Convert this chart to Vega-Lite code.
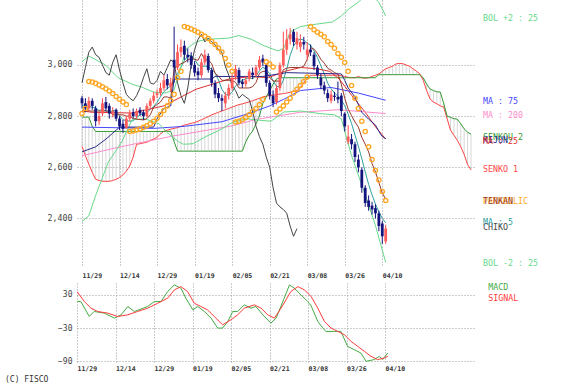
{
"$schema":"https://vega.github.io/schema/vega-lite/v6.json",
"background":"white",
"padding":{"left":5,"top":0,"right":0,"bottom":0},
"spacing":3,
"title":{"text":"(C) FISCO","orient":"bottom","anchor":"start","font":"DejaVu Sans Mono","fontSize":8,"fontWeight":"normal","color":"#333333","offset":4,"dx":-42},
"datasets":{
"ohlc":[
{"t":0,"o":2870,"h":2880,"l":2830,"c":2850},{"t":1,"o":2850,"h":2870,"l":2815,"c":2830},{"t":2,"o":2830,"h":2875,"l":2820,"c":2860},{"t":3,"o":2860,"h":2870,"l":2825,"c":2840},{"t":4,"o":2830,"h":2840,"l":2760,"c":2780},{"t":5,"o":2780,"h":2815,"l":2765,"c":2800},{"t":6,"o":2810,"h":2870,"l":2800,"c":2850},{"t":7,"o":2855,"h":2875,"l":2820,"c":2830},{"t":8,"o":2840,"h":2850,"l":2790,"c":2810},{"t":9,"o":2810,"h":2835,"l":2795,"c":2820},
{"t":10,"o":2825,"h":2830,"l":2780,"c":2790},{"t":11,"o":2790,"h":2800,"l":2745,"c":2760},{"t":12,"o":2770,"h":2785,"l":2735,"c":2750},{"t":13,"o":2755,"h":2800,"l":2750,"c":2790},{"t":14,"o":2790,"h":2825,"l":2780,"c":2810},{"t":15,"o":2815,"h":2830,"l":2790,"c":2800},{"t":16,"o":2800,"h":2830,"l":2790,"c":2820},{"t":17,"o":2825,"h":2835,"l":2800,"c":2810},{"t":18,"o":2815,"h":2825,"l":2785,"c":2800},{"t":19,"o":2800,"h":2850,"l":2795,"c":2840},
{"t":20,"o":2840,"h":2870,"l":2830,"c":2860},{"t":21,"o":2860,"h":2895,"l":2850,"c":2880},{"t":22,"o":2882,"h":2905,"l":2870,"c":2890},{"t":23,"o":2890,"h":2930,"l":2880,"c":2910},{"t":24,"o":2910,"h":2960,"l":2900,"c":2940},{"t":25,"o":2945,"h":2965,"l":2905,"c":2920},{"t":26,"o":2915,"h":2950,"l":2895,"c":2930},{"t":27,"o":3020,"h":3150,"l":2930,"c":2990},{"t":28,"o":2990,"h":3080,"l":2980,"c":3050},{"t":29,"o":3050,"h":3100,"l":3030,"c":3070},
{"t":30,"o":3075,"h":3095,"l":3020,"c":3040},{"t":31,"o":3040,"h":3065,"l":3010,"c":3030},{"t":32,"o":3035,"h":3050,"l":2985,"c":3000},{"t":33,"o":3000,"h":3015,"l":2955,"c":2970},{"t":34,"o":2975,"h":2990,"l":2940,"c":2960},{"t":35,"o":2960,"h":3025,"l":2950,"c":3010},{"t":36,"o":3010,"h":3060,"l":3000,"c":3040},{"t":37,"o":3035,"h":3045,"l":2970,"c":2980},{"t":38,"o":2980,"h":2990,"l":2915,"c":2930},{"t":39,"o":2930,"h":2940,"l":2870,"c":2885},
{"t":40,"o":2890,"h":2910,"l":2855,"c":2870},{"t":41,"o":2870,"h":2885,"l":2820,"c":2860},{"t":42,"o":2850,"h":2895,"l":2830,"c":2880},{"t":43,"o":2880,"h":2925,"l":2865,"c":2910},{"t":44,"o":2910,"h":2965,"l":2900,"c":2950},{"t":45,"o":2955,"h":3000,"l":2940,"c":2985},{"t":46,"o":2980,"h":2990,"l":2920,"c":2930},{"t":47,"o":2935,"h":2945,"l":2910,"c":2925},{"t":48,"o":2925,"h":2955,"l":2915,"c":2940},{"t":49,"o":2945,"h":2985,"l":2935,"c":2975},
{"t":50,"o":2970,"h":2990,"l":2945,"c":2960},{"t":51,"o":2960,"h":3000,"l":2950,"c":2990},{"t":52,"o":2990,"h":3035,"l":2980,"c":3020},{"t":53,"o":3025,"h":3040,"l":2995,"c":3010},{"t":54,"o":3000,"h":3005,"l":2915,"c":2930},{"t":55,"o":2930,"h":2940,"l":2865,"c":2880},{"t":56,"o":2880,"h":2900,"l":2835,"c":2850},{"t":57,"o":2855,"h":2920,"l":2845,"c":2910},{"t":58,"o":2910,"h":3010,"l":2900,"c":3000},{"t":59,"o":3000,"h":3130,"l":2990,"c":3060},
{"t":60,"o":3060,"h":3140,"l":3040,"c":3100},{"t":61,"o":3100,"h":3145,"l":3080,"c":3120},{"t":62,"o":3130,"h":3140,"l":3075,"c":3090},{"t":63,"o":3080,"h":3130,"l":3060,"c":3105},{"t":64,"o":3070,"h":3120,"l":3050,"c":3090},{"t":65,"o":3090,"h":3110,"l":3060,"c":3080},{"t":66,"o":3040,"h":3090,"l":3020,"c":3060},{"t":67,"o":3060,"h":3080,"l":3035,"c":3050},{"t":68,"o":3040,"h":3050,"l":2980,"c":2995},{"t":69,"o":2990,"h":3000,"l":2945,"c":2960},
{"t":70,"o":2950,"h":2965,"l":2905,"c":2920},{"t":71,"o":2920,"h":2935,"l":2885,"c":2900},{"t":72,"o":2890,"h":2905,"l":2855,"c":2870},{"t":73,"o":2860,"h":2900,"l":2850,"c":2885},{"t":74,"o":2880,"h":2895,"l":2860,"c":2875},{"t":75,"o":2875,"h":2935,"l":2850,"c":2865},{"t":76,"o":2880,"h":2890,"l":2800,"c":2820},{"t":77,"o":2810,"h":2815,"l":2740,"c":2760},{"t":78,"o":2700,"h":2765,"l":2690,"c":2720},{"t":79,"o":2710,"h":2730,"l":2670,"c":2690},
{"t":80,"o":2690,"h":2700,"l":2620,"c":2640},{"t":81,"o":2630,"h":2650,"l":2580,"c":2600},{"t":82,"o":2590,"h":2600,"l":2500,"c":2520},{"t":83,"o":2520,"h":2530,"l":2445,"c":2460},{"t":84,"o":2470,"h":2490,"l":2430,"c":2445},{"t":85,"o":2450,"h":2465,"l":2415,"c":2435},{"t":86,"o":2440,"h":2455,"l":2400,"c":2420},{"t":87,"o":2420,"h":2430,"l":2350,"c":2370},{"t":88,"o":2380,"h":2390,"l":2300,"c":2330},{"t":89,"o":2310,"h":2375,"l":2300,"c":2360}
],
"cloud":[
{"t":0,"a":2682,"b":2796},{"t":1,"a":2645,"b":2796},{"t":2,"a":2612,"b":2796},{"t":3,"a":2580,"b":2760},{"t":4,"a":2553,"b":2740},{"t":5,"a":2548,"b":2740},{"t":6,"a":2545,"b":2740},{"t":7,"a":2545,"b":2740},{"t":8,"a":2545,"b":2740},{"t":9,"a":2548,"b":2740},
{"t":10,"a":2553,"b":2740},{"t":11,"a":2560,"b":2740},{"t":12,"a":2570,"b":2740},{"t":13,"a":2585,"b":2740},{"t":14,"a":2605,"b":2740},{"t":15,"a":2640,"b":2740},{"t":16,"a":2690,"b":2740},{"t":17,"a":2692,"b":2740},{"t":18,"a":2695,"b":2740},{"t":19,"a":2698,"b":2740},
{"t":20,"a":2705,"b":2740},{"t":21,"a":2710,"b":2740},{"t":22,"a":2717,"b":2740},{"t":23,"a":2730,"b":2740},{"t":24,"a":2741,"b":2740},{"t":25,"a":2745,"b":2740},{"t":26,"a":2749,"b":2740},{"t":27,"a":2752,"b":2700},{"t":28,"a":2755,"b":2663},{"t":29,"a":2760,"b":2663},
{"t":30,"a":2765,"b":2663},{"t":31,"a":2768,"b":2663},{"t":32,"a":2772,"b":2663},{"t":33,"a":2775,"b":2663},{"t":34,"a":2780,"b":2663},{"t":35,"a":2786,"b":2663},{"t":36,"a":2792,"b":2663},{"t":37,"a":2798,"b":2663},{"t":38,"a":2805,"b":2663},{"t":39,"a":2810,"b":2663},
{"t":40,"a":2815,"b":2663},{"t":41,"a":2820,"b":2663},{"t":42,"a":2825,"b":2663},{"t":43,"a":2830,"b":2663},{"t":44,"a":2835,"b":2663},{"t":45,"a":2840,"b":2663},{"t":46,"a":2845,"b":2663},{"t":47,"a":2848,"b":2663},{"t":48,"a":2852,"b":2700},{"t":49,"a":2856,"b":2725},
{"t":50,"a":2860,"b":2741},{"t":51,"a":2865,"b":2770},{"t":52,"a":2870,"b":2800},{"t":53,"a":2875,"b":2850},{"t":54,"a":2878,"b":2875},{"t":55,"a":2880,"b":2900},{"t":56,"a":2882,"b":2925},{"t":57,"a":2884,"b":2945},{"t":58,"a":2886,"b":2950},{"t":59,"a":2888,"b":2950},
{"t":60,"a":2890,"b":2950},{"t":61,"a":2893,"b":2950},{"t":62,"a":2896,"b":2950},{"t":63,"a":2900,"b":2950},{"t":64,"a":2910,"b":2950},{"t":65,"a":2930,"b":2950},{"t":66,"a":2950,"b":2950},{"t":67,"a":2960,"b":2950},{"t":68,"a":2960,"b":2950},{"t":69,"a":2960,"b":2950},
{"t":70,"a":2960,"b":2950},{"t":71,"a":2960,"b":2950},{"t":72,"a":2960,"b":2950},{"t":73,"a":2960,"b":2950},{"t":74,"a":2960,"b":2950},{"t":75,"a":2960,"b":2950},{"t":76,"a":2958,"b":2950},{"t":77,"a":2955,"b":2950},{"t":78,"a":2952,"b":2950},{"t":79,"a":2950,"b":2950},
{"t":80,"a":2950,"b":2950},{"t":81,"a":2955,"b":2950},{"t":82,"a":2950,"b":2950},{"t":83,"a":2948,"b":2950},{"t":84,"a":2950,"b":2950},{"t":85,"a":2955,"b":2950},{"t":86,"a":2960,"b":2950},{"t":87,"a":2965,"b":2962},{"t":88,"a":2975,"b":2962},{"t":89,"a":2985,"b":2962},
{"t":90,"a":2990,"b":2962},{"t":91,"a":2995,"b":2962},{"t":92,"a":3004,"b":2962},{"t":93,"a":3006,"b":2962},{"t":94,"a":3005,"b":2962},{"t":95,"a":3000,"b":2962},{"t":96,"a":2995,"b":2962},{"t":97,"a":2985,"b":2962},{"t":98,"a":2976,"b":2962},{"t":99,"a":2965,"b":2962},
{"t":100,"a":2940,"b":2950},{"t":101,"a":2900,"b":2925},{"t":102,"a":2867,"b":2906},{"t":103,"a":2855,"b":2900},{"t":104,"a":2848,"b":2895},{"t":105,"a":2840,"b":2894},{"t":106,"a":2835,"b":2850},{"t":107,"a":2790,"b":2800},{"t":108,"a":2745,"b":2795},{"t":109,"a":2725,"b":2790},
{"t":110,"a":2705,"b":2788},{"t":111,"a":2680,"b":2770},{"t":112,"a":2650,"b":2750},{"t":113,"a":2610,"b":2737},{"t":114,"a":2590,"b":2729}
],
"sar":[
{"t":0,"v":2810},{"t":1,"v":2830},{"t":2,"v":2935},{"t":3,"v":2933},{"t":4,"v":2928},{"t":5,"v":2922},{"t":6,"v":2915},{"t":7,"v":2907},{"t":8,"v":2898},{"t":9,"v":2888},{"t":10,"v":2877},{"t":11,"v":2866},{"t":12,"v":2855},{"t":13,"v":2845},
{"t":14,"v":2740},{"t":15,"v":2742},{"t":16,"v":2746},{"t":17,"v":2750},{"t":18,"v":2756},{"t":19,"v":2762},{"t":20,"v":2770},{"t":21,"v":2780},{"t":22,"v":2792},{"t":23,"v":2806},{"t":24,"v":2822},{"t":25,"v":2840},{"t":26,"v":2860},{"t":27,"v":2885},{"t":28,"v":2950},{"t":29,"v":2975},
{"t":30,"v":3150},{"t":31,"v":3146},{"t":32,"v":3141},{"t":33,"v":3135},{"t":34,"v":3128},{"t":35,"v":3120},{"t":36,"v":3112},{"t":37,"v":3103},{"t":38,"v":3092},{"t":39,"v":3080},{"t":40,"v":3066},{"t":41,"v":3051},{"t":42,"v":3025},{"t":43,"v":3000},{"t":44,"v":2975},
{"t":45,"v":2777},{"t":46,"v":2780},{"t":47,"v":2786},{"t":48,"v":2795},{"t":49,"v":2805},{"t":50,"v":2818},{"t":51,"v":2830},{"t":52,"v":2845},{"t":53,"v":2865},
{"t":54,"v":3012},{"t":55,"v":3004},{"t":56,"v":2992},
{"t":57,"v":2816},{"t":58,"v":2828},{"t":59,"v":2840},{"t":60,"v":2855},{"t":61,"v":2870},{"t":62,"v":2890},{"t":63,"v":2905},{"t":64,"v":2920},{"t":65,"v":2935},{"t":66,"v":2953},
{"t":67,"v":3150},{"t":68,"v":3138},{"t":69,"v":3128},{"t":70,"v":3120},{"t":71,"v":3110},{"t":72,"v":3092},{"t":73,"v":3080},{"t":74,"v":3065},{"t":75,"v":3045},{"t":76,"v":3030},{"t":77,"v":3010},{"t":78,"v":2975},{"t":79,"v":2920},{"t":80,"v":2870},{"t":81,"v":2830},{"t":82,"v":2780},{"t":83,"v":2740},{"t":84,"v":2680},{"t":85,"v":2630},{"t":86,"v":2587},{"t":87,"v":2550},{"t":88,"v":2505},{"t":89,"v":2470}
],
"lines":[
{"s":"MA : 5","t":0,"v":2845},{"s":"MA : 5","t":1,"v":2840},{"s":"MA : 5","t":2,"v":2838},{"s":"MA : 5","t":3,"v":2835},{"s":"MA : 5","t":4,"v":2832},{"s":"MA : 5","t":5,"v":2822},{"s":"MA : 5","t":6,"v":2826},{"s":"MA : 5","t":7,"v":2820},{"s":"MA : 5","t":8,"v":2814},{"s":"MA : 5","t":9,"v":2822},
{"s":"MA : 5","t":10,"v":2820},{"s":"MA : 5","t":11,"v":2802},{"s":"MA : 5","t":12,"v":2786},{"s":"MA : 5","t":13,"v":2782},{"s":"MA : 5","t":14,"v":2780},{"s":"MA : 5","t":15,"v":2782},{"s":"MA : 5","t":16,"v":2794},{"s":"MA : 5","t":17,"v":2806},{"s":"MA : 5","t":18,"v":2808},{"s":"MA : 5","t":19,"v":2814},
{"s":"MA : 5","t":20,"v":2826},{"s":"MA : 5","t":21,"v":2838},{"s":"MA : 5","t":22,"v":2854},{"s":"MA : 5","t":23,"v":2876},{"s":"MA : 5","t":24,"v":2896},{"s":"MA : 5","t":25,"v":2908},{"s":"MA : 5","t":26,"v":2918},{"s":"MA : 5","t":27,"v":2938},{"s":"MA : 5","t":28,"v":2966},{"s":"MA : 5","t":29,"v":2992},
{"s":"MA : 5","t":30,"v":3016},{"s":"MA : 5","t":31,"v":3036},{"s":"MA : 5","t":32,"v":3038},{"s":"MA : 5","t":33,"v":3022},{"s":"MA : 5","t":34,"v":3000},{"s":"MA : 5","t":35,"v":2994},{"s":"MA : 5","t":36,"v":2996},{"s":"MA : 5","t":37,"v":2992},{"s":"MA : 5","t":38,"v":2984},{"s":"MA : 5","t":39,"v":2969},
{"s":"MA : 5","t":40,"v":2941},{"s":"MA : 5","t":41,"v":2905},{"s":"MA : 5","t":42,"v":2885},{"s":"MA : 5","t":43,"v":2881},{"s":"MA : 5","t":44,"v":2894},{"s":"MA : 5","t":45,"v":2917},{"s":"MA : 5","t":46,"v":2931},{"s":"MA : 5","t":47,"v":2940},{"s":"MA : 5","t":48,"v":2946},{"s":"MA : 5","t":49,"v":2951},
{"s":"MA : 5","t":50,"v":2946},{"s":"MA : 5","t":51,"v":2958},{"s":"MA : 5","t":52,"v":2977},{"s":"MA : 5","t":53,"v":2991},{"s":"MA : 5","t":54,"v":2982},{"s":"MA : 5","t":55,"v":2966},{"s":"MA : 5","t":56,"v":2938},{"s":"MA : 5","t":57,"v":2916},{"s":"MA : 5","t":58,"v":2914},{"s":"MA : 5","t":59,"v":2940},
{"s":"MA : 5","t":60,"v":2984},{"s":"MA : 5","t":61,"v":3038},{"s":"MA : 5","t":62,"v":3074},{"s":"MA : 5","t":63,"v":3095},{"s":"MA : 5","t":64,"v":3101},{"s":"MA : 5","t":65,"v":3097},{"s":"MA : 5","t":66,"v":3085},{"s":"MA : 5","t":67,"v":3077},{"s":"MA : 5","t":68,"v":3055},{"s":"MA : 5","t":69,"v":3029},
{"s":"MA : 5","t":70,"v":2997},{"s":"MA : 5","t":71,"v":2965},{"s":"MA : 5","t":72,"v":2929},{"s":"MA : 5","t":73,"v":2907},{"s":"MA : 5","t":74,"v":2890},{"s":"MA : 5","t":75,"v":2879},{"s":"MA : 5","t":76,"v":2863},{"s":"MA : 5","t":77,"v":2841},{"s":"MA : 5","t":78,"v":2808},{"s":"MA : 5","t":79,"v":2771},
{"s":"MA : 5","t":80,"v":2726},{"s":"MA : 5","t":81,"v":2682},{"s":"MA : 5","t":82,"v":2634},{"s":"MA : 5","t":83,"v":2582},{"s":"MA : 5","t":84,"v":2533},{"s":"MA : 5","t":85,"v":2492},{"s":"MA : 5","t":86,"v":2456},{"s":"MA : 5","t":87,"v":2426},{"s":"MA : 5","t":88,"v":2400},{"s":"MA : 5","t":89,"v":2383},
{"s":"MA : 25","t":0,"v":2820},{"s":"MA : 25","t":3,"v":2815},{"s":"MA : 25","t":14.6,"v":2812},{"s":"MA : 25","t":24,"v":2840},{"s":"MA : 25","t":33.4,"v":2905},{"s":"MA : 25","t":43.1,"v":2945},{"s":"MA : 25","t":49.7,"v":2955},{"s":"MA : 25","t":54.6,"v":2950},{"s":"MA : 25","t":59.4,"v":2975},{"s":"MA : 25","t":64,"v":2990},{"s":"MA : 25","t":68.9,"v":2985},{"s":"MA : 25","t":72.6,"v":2975},{"s":"MA : 25","t":75.4,"v":2945},{"s":"MA : 25","t":79.1,"v":2880},{"s":"MA : 25","t":83,"v":2815},{"s":"MA : 25","t":85.9,"v":2760},{"s":"MA : 25","t":89,"v":2710},
{"s":"MA : 75","t":0,"v":2757},{"s":"MA : 75","t":21,"v":2752},{"s":"MA : 75","t":30,"v":2760},{"s":"MA : 75","t":41,"v":2778},{"s":"MA : 75","t":50,"v":2815},{"s":"MA : 75","t":55,"v":2840},{"s":"MA : 75","t":59,"v":2865},{"s":"MA : 75","t":64,"v":2900},{"s":"MA : 75","t":73,"v":2912},{"s":"MA : 75","t":81,"v":2890},{"s":"MA : 75","t":89,"v":2862},
{"s":"MA : 200","t":0,"v":2645},{"s":"MA : 200","t":10.6,"v":2678},{"s":"MA : 200","t":26.6,"v":2722},{"s":"MA : 200","t":43.7,"v":2761},{"s":"MA : 200","t":51.4,"v":2788},{"s":"MA : 200","t":64,"v":2815},{"s":"MA : 200","t":75,"v":2825},{"s":"MA : 200","t":89,"v":2810},
{"s":"BOL +2 : 25","t":0,"v":3012},{"s":"BOL +2 : 25","t":2,"v":3035},{"s":"BOL +2 : 25","t":6.9,"v":3000},{"s":"BOL +2 : 25","t":10.6,"v":2950},{"s":"BOL +2 : 25","t":14.6,"v":2925},{"s":"BOL +2 : 25","t":17.4,"v":2914},{"s":"BOL +2 : 25","t":21,"v":2894},{"s":"BOL +2 : 25","t":24,"v":2890},{"s":"BOL +2 : 25","t":26.9,"v":2900},{"s":"BOL +2 : 25","t":28.3,"v":2960},{"s":"BOL +2 : 25","t":30.6,"v":3063},{"s":"BOL +2 : 25","t":33.4,"v":3090},{"s":"BOL +2 : 25","t":36.3,"v":3100},{"s":"BOL +2 : 25","t":43.1,"v":3105},{"s":"BOL +2 : 25","t":46,"v":3115},{"s":"BOL +2 : 25","t":49.7,"v":3100},{"s":"BOL +2 : 25","t":53.4,"v":3075},{"s":"BOL +2 : 25","t":57.4,"v":3055},{"s":"BOL +2 : 25","t":59.1,"v":3065},{"s":"BOL +2 : 25","t":61.1,"v":3130},{"s":"BOL +2 : 25","t":64,"v":3150},{"s":"BOL +2 : 25","t":68.9,"v":3160},{"s":"BOL +2 : 25","t":73.4,"v":3168},{"s":"BOL +2 : 25","t":76,"v":3192},{"s":"BOL +2 : 25","t":78.3,"v":3220},{"s":"BOL +2 : 25","t":81.1,"v":3247},{"s":"BOL +2 : 25","t":82.5,"v":3265},{"s":"BOL +2 : 25","t":84,"v":3285},{"s":"BOL +2 : 25","t":85.5,"v":3265},{"s":"BOL +2 : 25","t":86.9,"v":3247},{"s":"BOL +2 : 25","t":89,"v":3192},
{"s":"BOL -2 : 25","t":0,"v":2388},{"s":"BOL -2 : 25","t":2,"v":2410},{"s":"BOL -2 : 25","t":4,"v":2490},{"s":"BOL -2 : 25","t":6,"v":2560},{"s":"BOL -2 : 25","t":7.7,"v":2620},{"s":"BOL -2 : 25","t":9.7,"v":2660},{"s":"BOL -2 : 25","t":11.7,"v":2700},{"s":"BOL -2 : 25","t":13.4,"v":2750},{"s":"BOL -2 : 25","t":14.6,"v":2785},{"s":"BOL -2 : 25","t":18.3,"v":2790},{"s":"BOL -2 : 25","t":22.6,"v":2770},{"s":"BOL -2 : 25","t":25.4,"v":2730},{"s":"BOL -2 : 25","t":28.3,"v":2700},{"s":"BOL -2 : 25","t":29.7,"v":2690},{"s":"BOL -2 : 25","t":32.6,"v":2692},{"s":"BOL -2 : 25","t":36.3,"v":2720},{"s":"BOL -2 : 25","t":40.3,"v":2745},{"s":"BOL -2 : 25","t":44,"v":2775},{"s":"BOL -2 : 25","t":48.3,"v":2790},{"s":"BOL -2 : 25","t":51.1,"v":2785},{"s":"BOL -2 : 25","t":55.4,"v":2780},{"s":"BOL -2 : 25","t":59.1,"v":2816},{"s":"BOL -2 : 25","t":64,"v":2820},{"s":"BOL -2 : 25","t":69.7,"v":2810},{"s":"BOL -2 : 25","t":74,"v":2805},{"s":"BOL -2 : 25","t":76,"v":2790},{"s":"BOL -2 : 25","t":77.4,"v":2720},{"s":"BOL -2 : 25","t":78.9,"v":2650},{"s":"BOL -2 : 25","t":80.3,"v":2595},{"s":"BOL -2 : 25","t":83.1,"v":2490},{"s":"BOL -2 : 25","t":86,"v":2372},{"s":"BOL -2 : 25","t":89,"v":2228},
{"s":"TENKAN","t":0,"v":2820},{"s":"TENKAN","t":8,"v":2820},{"s":"TENKAN","t":9,"v":2805},{"s":"TENKAN","t":12,"v":2805},{"s":"TENKAN","t":13,"v":2800},{"s":"TENKAN","t":14,"v":2800},{"s":"TENKAN","t":15,"v":2790},{"s":"TENKAN","t":18,"v":2785},{"s":"TENKAN","t":19,"v":2790},{"s":"TENKAN","t":20,"v":2805},{"s":"TENKAN","t":21,"v":2835},{"s":"TENKAN","t":22,"v":2845},{"s":"TENKAN","t":23,"v":2855},{"s":"TENKAN","t":24,"v":2875},{"s":"TENKAN","t":25,"v":2875},{"s":"TENKAN","t":26,"v":2870},{"s":"TENKAN","t":27,"v":2985},{"s":"TENKAN","t":28,"v":2995},{"s":"TENKAN","t":29,"v":3005},{"s":"TENKAN","t":30,"v":3010},{"s":"TENKAN","t":31,"v":3020},{"s":"TENKAN","t":32,"v":3025},{"s":"TENKAN","t":33,"v":3022},{"s":"TENKAN","t":34,"v":3018},{"s":"TENKAN","t":35,"v":3045},{"s":"TENKAN","t":36,"v":3020},{"s":"TENKAN","t":37,"v":3020},{"s":"TENKAN","t":38,"v":3005},{"s":"TENKAN","t":39,"v":2967},{"s":"TENKAN","t":40,"v":2957},{"s":"TENKAN","t":41,"v":2940},{"s":"TENKAN","t":44,"v":2940},{"s":"TENKAN","t":45,"v":2932},{"s":"TENKAN","t":46,"v":2910},{"s":"TENKAN","t":49,"v":2910},{"s":"TENKAN","t":50,"v":2915},{"s":"TENKAN","t":51,"v":2932},{"s":"TENKAN","t":52,"v":2967},{"s":"TENKAN","t":53,"v":2975},{"s":"TENKAN","t":54,"v":2975},{"s":"TENKAN","t":55,"v":2952},{"s":"TENKAN","t":56,"v":2937},{"s":"TENKAN","t":58,"v":2937},{"s":"TENKAN","t":59,"v":2982},{"s":"TENKAN","t":60,"v":2987},{"s":"TENKAN","t":61,"v":2990},{"s":"TENKAN","t":64,"v":2990},{"s":"TENKAN","t":65,"v":2995},{"s":"TENKAN","t":66,"v":3022},{"s":"TENKAN","t":67,"v":3067},{"s":"TENKAN","t":68,"v":3062},{"s":"TENKAN","t":69,"v":3045},{"s":"TENKAN","t":70,"v":3022},{"s":"TENKAN","t":71,"v":3007},{"s":"TENKAN","t":72,"v":2987},{"s":"TENKAN","t":73,"v":2980},{"s":"TENKAN","t":74,"v":2970},{"s":"TENKAN","t":75,"v":2965},{"s":"TENKAN","t":76,"v":2925},{"s":"TENKAN","t":77,"v":2870},{"s":"TENKAN","t":78,"v":2827},{"s":"TENKAN","t":79,"v":2802},{"s":"TENKAN","t":80,"v":2777},{"s":"TENKAN","t":81,"v":2757},{"s":"TENKAN","t":82,"v":2717},{"s":"TENKAN","t":83,"v":2690},{"s":"TENKAN","t":84,"v":2660},{"s":"TENKAN","t":85,"v":2615},{"s":"TENKAN","t":86,"v":2582},{"s":"TENKAN","t":87,"v":2540},{"s":"TENKAN","t":88,"v":2500},{"s":"TENKAN","t":89,"v":2475},
{"s":"KIJUN","t":0,"v":2660},{"s":"KIJUN","t":4,"v":2680},{"s":"KIJUN","t":7,"v":2710},{"s":"KIJUN","t":10,"v":2745},{"s":"KIJUN","t":11,"v":2757},{"s":"KIJUN","t":21,"v":2757},{"s":"KIJUN","t":22,"v":2790},{"s":"KIJUN","t":24,"v":2830},{"s":"KIJUN","t":26,"v":2840},{"s":"KIJUN","t":27,"v":2945},{"s":"KIJUN","t":38,"v":2945},{"s":"KIJUN","t":39,"v":2955},{"s":"KIJUN","t":53,"v":2955},{"s":"KIJUN","t":60,"v":2970},{"s":"KIJUN","t":76,"v":2965},{"s":"KIJUN","t":77,"v":2940},{"s":"KIJUN","t":78,"v":2910},{"s":"KIJUN","t":80,"v":2875},{"s":"KIJUN","t":82,"v":2815},{"s":"KIJUN","t":84,"v":2788},{"s":"KIJUN","t":86,"v":2765},{"s":"KIJUN","t":87,"v":2740},{"s":"KIJUN","t":88,"v":2720},{"s":"KIJUN","t":89,"v":2712},
{"s":"CHIKO","t":0,"v":2930},{"s":"CHIKO","t":1,"v":2990},{"s":"CHIKO","t":2,"v":3050},{"s":"CHIKO","t":3,"v":3070},{"s":"CHIKO","t":4,"v":3040},{"s":"CHIKO","t":5,"v":3030},{"s":"CHIKO","t":6,"v":3000},{"s":"CHIKO","t":7,"v":2970},{"s":"CHIKO","t":8,"v":2960},{"s":"CHIKO","t":9,"v":3010},
{"s":"CHIKO","t":10,"v":3040},{"s":"CHIKO","t":11,"v":2980},{"s":"CHIKO","t":12,"v":2930},{"s":"CHIKO","t":13,"v":2885},{"s":"CHIKO","t":14,"v":2870},{"s":"CHIKO","t":15,"v":2860},{"s":"CHIKO","t":16,"v":2880},{"s":"CHIKO","t":17,"v":2910},{"s":"CHIKO","t":18,"v":2950},{"s":"CHIKO","t":19,"v":2985},
{"s":"CHIKO","t":20,"v":2930},{"s":"CHIKO","t":21,"v":2925},{"s":"CHIKO","t":22,"v":2940},{"s":"CHIKO","t":23,"v":2975},{"s":"CHIKO","t":24,"v":2960},{"s":"CHIKO","t":25,"v":2990},{"s":"CHIKO","t":26,"v":3020},{"s":"CHIKO","t":27,"v":3010},{"s":"CHIKO","t":28,"v":2930},{"s":"CHIKO","t":29,"v":2880},
{"s":"CHIKO","t":30,"v":2850},{"s":"CHIKO","t":31,"v":2910},{"s":"CHIKO","t":32,"v":3000},{"s":"CHIKO","t":33,"v":3060},{"s":"CHIKO","t":34,"v":3100},{"s":"CHIKO","t":35,"v":3120},{"s":"CHIKO","t":36,"v":3090},{"s":"CHIKO","t":37,"v":3105},{"s":"CHIKO","t":38,"v":3090},{"s":"CHIKO","t":39,"v":3080},
{"s":"CHIKO","t":40,"v":3060},{"s":"CHIKO","t":41,"v":3050},{"s":"CHIKO","t":42,"v":2995},{"s":"CHIKO","t":43,"v":2960},{"s":"CHIKO","t":44,"v":2920},{"s":"CHIKO","t":45,"v":2900},{"s":"CHIKO","t":46,"v":2870},{"s":"CHIKO","t":47,"v":2885},{"s":"CHIKO","t":48,"v":2875},{"s":"CHIKO","t":49,"v":2865},
{"s":"CHIKO","t":50,"v":2820},{"s":"CHIKO","t":51,"v":2760},{"s":"CHIKO","t":52,"v":2720},{"s":"CHIKO","t":53,"v":2690},{"s":"CHIKO","t":54,"v":2640},{"s":"CHIKO","t":55,"v":2600},{"s":"CHIKO","t":56,"v":2520},{"s":"CHIKO","t":57,"v":2460},{"s":"CHIKO","t":58,"v":2445},{"s":"CHIKO","t":59,"v":2435},
{"s":"CHIKO","t":60,"v":2420},{"s":"CHIKO","t":61,"v":2370},{"s":"CHIKO","t":62,"v":2330},{"s":"CHIKO","t":63,"v":2360}
],
"labels":[
{"name":"BOL +2 : 25","v":3179},{"name":"MA : 75","v":2855},{"name":"MA : 200","v":2800},{"name":"SENKOU 2","v":2714},{"name":"KIJUN","v":2703},{"name":"MA : 25","v":2699},{"name":"SENKO 1","v":2589},{"name":"PARABOLIC","v":2464},{"name":"TENKAN","v":2464},{"name":"CHIKO","v":2361},{"name":"MA : 5","v":2381},{"name":"BOL -2 : 25","v":2220}
],
"macd":[
{"s":"MACD","t":0,"v":18},{"s":"MACD","t":1.1,"v":18},{"s":"MACD","t":3.5,"v":-9},{"s":"MACD","t":4.9,"v":0},{"s":"MACD","t":7.8,"v":-3},{"s":"MACD","t":10.7,"v":-12},{"s":"MACD","t":12.6,"v":-6},{"s":"MACD","t":14.5,"v":9},{"s":"MACD","t":16.4,"v":0},{"s":"MACD","t":20.2,"v":9},{"s":"MACD","t":22.1,"v":18},{"s":"MACD","t":24,"v":18},{"s":"MACD","t":25.9,"v":36},{"s":"MACD","t":27.8,"v":48},{"s":"MACD","t":29.7,"v":42},{"s":"MACD","t":31.1,"v":24},{"s":"MACD","t":33.1,"v":3},{"s":"MACD","t":34.5,"v":9},{"s":"MACD","t":36.4,"v":0},{"s":"MACD","t":38.3,"v":-12},{"s":"MACD","t":40.2,"v":-30},{"s":"MACD","t":41.6,"v":-30},{"s":"MACD","t":43.1,"v":-18},{"s":"MACD","t":44.5,"v":0},{"s":"MACD","t":45.9,"v":0},{"s":"MACD","t":47.8,"v":12},{"s":"MACD","t":49.7,"v":6},{"s":"MACD","t":51.1,"v":9},{"s":"MACD","t":53.1,"v":-6},{"s":"MACD","t":55.4,"v":-21},{"s":"MACD","t":56.9,"v":-12},{"s":"MACD","t":59.2,"v":24},{"s":"MACD","t":60.7,"v":48},{"s":"MACD","t":62.1,"v":42},{"s":"MACD","t":64,"v":30},{"s":"MACD","t":65.9,"v":18},{"s":"MACD","t":66.9,"v":10},{"s":"MACD","t":68.8,"v":-18},{"s":"MACD","t":70,"v":-28},{"s":"MACD","t":71.1,"v":-36},{"s":"MACD","t":73.5,"v":-36},{"s":"MACD","t":75.4,"v":-36},{"s":"MACD","t":77.3,"v":-63},{"s":"MACD","t":79.2,"v":-69},{"s":"MACD","t":81.1,"v":-75},{"s":"MACD","t":82.6,"v":-90},{"s":"MACD","t":84.9,"v":-87},{"s":"MACD","t":86.4,"v":-81},{"s":"MACD","t":87.3,"v":-87},{"s":"MACD","t":88.8,"v":-75},
{"s":"SIGNAL","t":0,"v":36},{"s":"SIGNAL","t":2.1,"v":18},{"s":"SIGNAL","t":4,"v":6},{"s":"SIGNAL","t":5.9,"v":0},{"s":"SIGNAL","t":8.8,"v":-3},{"s":"SIGNAL","t":11.6,"v":-9},{"s":"SIGNAL","t":14.5,"v":-6},{"s":"SIGNAL","t":17.3,"v":0},{"s":"SIGNAL","t":20.2,"v":6},{"s":"SIGNAL","t":23.1,"v":15},{"s":"SIGNAL","t":25.9,"v":24},{"s":"SIGNAL","t":27.8,"v":39},{"s":"SIGNAL","t":29.7,"v":45},{"s":"SIGNAL","t":31.6,"v":36},{"s":"SIGNAL","t":33.5,"v":15},{"s":"SIGNAL","t":35.4,"v":9},{"s":"SIGNAL","t":37.3,"v":3},{"s":"SIGNAL","t":39.2,"v":-9},{"s":"SIGNAL","t":41.6,"v":-24},{"s":"SIGNAL","t":44,"v":-15},{"s":"SIGNAL","t":45.9,"v":-6},{"s":"SIGNAL","t":47.8,"v":6},{"s":"SIGNAL","t":50.7,"v":12},{"s":"SIGNAL","t":52.6,"v":6},{"s":"SIGNAL","t":54.5,"v":-6},{"s":"SIGNAL","t":56.4,"v":-12},{"s":"SIGNAL","t":58.3,"v":6},{"s":"SIGNAL","t":61.1,"v":36},{"s":"SIGNAL","t":63.1,"v":45},{"s":"SIGNAL","t":65,"v":39},{"s":"SIGNAL","t":66.9,"v":27},{"s":"SIGNAL","t":68.8,"v":6},{"s":"SIGNAL","t":70.7,"v":-18},{"s":"SIGNAL","t":72.6,"v":-30},{"s":"SIGNAL","t":74.5,"v":-36},{"s":"SIGNAL","t":76.4,"v":-42},{"s":"SIGNAL","t":78.3,"v":-54},{"s":"SIGNAL","t":80.2,"v":-63},{"s":"SIGNAL","t":82.1,"v":-72},{"s":"SIGNAL","t":84,"v":-81},{"s":"SIGNAL","t":85.9,"v":-87},{"s":"SIGNAL","t":87.8,"v":-84},{"s":"SIGNAL","t":88.8,"v":-81}
],
"macdlabels":[{"name":"MACD","v":43},{"name":"SIGNAL","v":22.6}]
},
"vconcat":[
{
"width":399,"height":267,
"layer":[
{"data":{"name":"cloud"},"mark":{"type":"rule","color":"#c4c4c4","strokeWidth":0.9,"opacity":0.75,"clip":true},
 "encoding":{
  "x":{"field":"t","type":"quantitative","scale":{"domain":[0,114],"nice":false,"zero":false},
   "axis":{"values":[0,11,22,33,44,55,66,77,88],"labelExpr":"['11/29','12/14','12/29','01/19','02/05','02/21','03/08','03/26','04/10'][round(datum.value/11)]","labelAlign":"left","labelPadding":5,"labelFontSize":6.5,"labelFontWeight":"bold","labelColor":"#333333","title":null}},
  "y":{"field":"a","type":"quantitative","scale":{"domain":[2210,3254],"nice":false,"zero":false},
   "axis":{"values":[2400,2600,2800,3000],"format":",d","labelFontSize":8.3,"labelPadding":5,"title":null}},
  "y2":{"field":"b"}}},
{"data":{"name":"cloud"},"mark":{"type":"line","color":"#ff4444","strokeWidth":1,"clip":true},
 "encoding":{"x":{"field":"t","type":"quantitative"},"y":{"field":"a","type":"quantitative"}}},
{"data":{"name":"cloud"},"mark":{"type":"line","color":"#339933","strokeWidth":1,"clip":true},
 "encoding":{"x":{"field":"t","type":"quantitative"},"y":{"field":"b","type":"quantitative"}}},
{"data":{"name":"lines"},"mark":{"type":"line","strokeWidth":1,"clip":true},
 "encoding":{"x":{"field":"t","type":"quantitative"},"y":{"field":"v","type":"quantitative"},
  "color":{"field":"s","type":"nominal","legend":null,
   "scale":{"domain":["BOL +2 : 25","MA : 75","MA : 200","SENKOU 2","KIJUN","MA : 25","SENKO 1","TENKAN","PARABOLIC","MA : 5","CHIKO","BOL -2 : 25","MACD","SIGNAL"],
    "range":["#66d98a","#4646ff","#ff8ccc","#339933","#2a2a8a","#dd3030","#ff4444","#9a3a2a","#ffaa22","#2f9f9f","#444444","#66d98a","#44aa44","#ff3b3b"]}}}},
{"data":{"name":"ohlc"},"mark":{"type":"rule","strokeWidth":1,"clip":true},
 "encoding":{"x":{"field":"t","type":"quantitative"},"y":{"field":"l","type":"quantitative"},"y2":{"field":"h"},
  "color":{"condition":{"test":"datum.c >= datum.o","value":"#ff4a4a"},"value":"#14147e"}}},
{"data":{"name":"ohlc"},"mark":{"type":"bar","width":2.8,"clip":true},
 "encoding":{"x":{"field":"t","type":"quantitative"},"y":{"field":"o","type":"quantitative"},"y2":{"field":"c"},
  "color":{"condition":{"test":"datum.c >= datum.o","value":"#ff5c5c"},"value":"#14147e"}}},
{"data":{"name":"sar"},"mark":{"type":"point","shape":"circle","filled":false,"size":18,"strokeWidth":1.3,"color":"#ffa51f","opacity":1,"clip":true},
 "encoding":{"x":{"field":"t","type":"quantitative"},"y":{"field":"v","type":"quantitative"}}},
{"data":{"name":"labels"},"mark":{"type":"text","align":"left","baseline":"middle","font":"DejaVu Sans Mono","fontSize":8.3},
 "encoding":{"x":{"datum":117.5,"type":"quantitative"},"y":{"field":"v","type":"quantitative"},"text":{"field":"name"},"color":{"field":"name","type":"nominal","legend":null}}}
]
},
{
"width":399,"height":81,
"layer":[
{"data":{"name":"macd"},"mark":{"type":"line","strokeWidth":1,"clip":true},
 "encoding":{
  "x":{"field":"t","type":"quantitative","scale":{"domain":[0,114],"nice":false,"zero":false},
   "axis":{"values":[0,11,22,33,44,55,66,77,88],"labelExpr":"['11/29','12/14','12/29','01/19','02/05','02/21','03/08','03/26','04/10'][round(datum.value/11)]","labelAlign":"left","labelPadding":1,"labelFontSize":6.5,"labelFontWeight":"bold","labelColor":"#333333","title":null}},
  "y":{"field":"v","type":"quantitative","scale":{"domain":[-94.9,51.5],"nice":false,"zero":false},
   "axis":{"values":[30,0,-30,-60,-90],"labelFontSize":8,"labelPadding":5,"title":null}},
  "color":{"field":"s","type":"nominal","legend":null}}},
{"data":{"name":"macdlabels"},"mark":{"type":"text","align":"left","baseline":"middle","font":"DejaVu Sans Mono","fontSize":8.3},
 "encoding":{"x":{"datum":117.5,"type":"quantitative"},"y":{"field":"v","type":"quantitative"},"text":{"field":"name"},"color":{"field":"name","type":"nominal","legend":null}}}
]
}
],
"config":{
 "view":{"stroke":null},
 "axis":{"domain":false,"ticks":false,"tickSize":0,"grid":true,"gridColor":"#9a9a9a","gridDash":[1,2],"gridWidth":1,"labelFont":"DejaVu Sans Mono","labelColor":"#444444"}
}
}
